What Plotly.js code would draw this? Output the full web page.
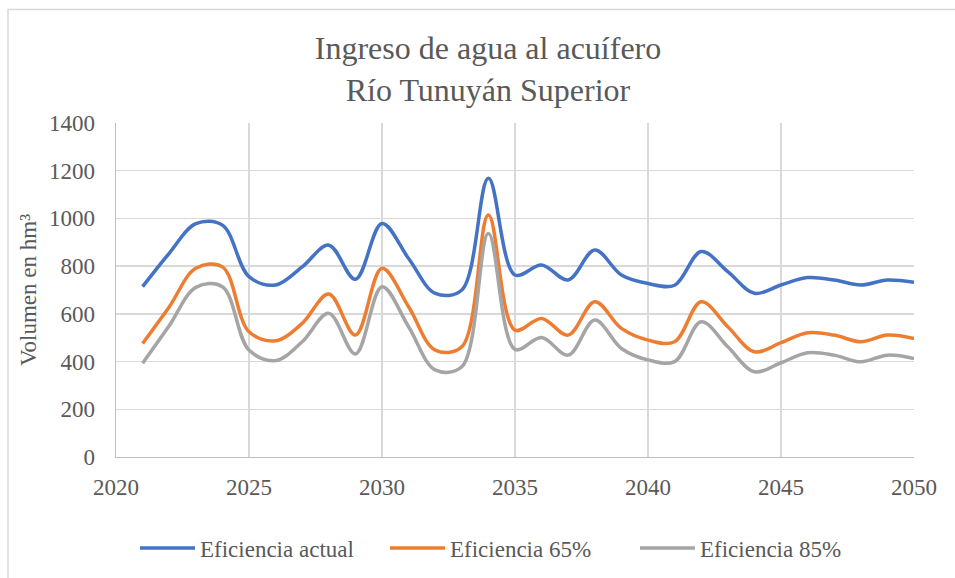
<!DOCTYPE html>
<html>
<head>
<meta charset="utf-8">
<script src="https://cdn.plot.ly/plotly-3.0.1.min.js"></script>
<style>
  html, body { margin: 0; padding: 0; background: #fff; }
  #chart { width: 955px; height: 578px; }
</style>
</head>
<body>
<div id="chart"></div>
<script>
const years = [2021,2022,2023,2024,2025,2026,2027,2028,2029,2030,
               2031,2032,2033,2034,2035,2036,2037,2038,2039,2040,
               2041,2042,2043,2044,2045,2046,2047,2048,2049,2050];
const eficienciaActual = [714,854,978,972,756,721,797,888,745,979,
                          832,686,700,1168,763,805,742,868,763,727,
                          720,861,777,686,721,752,742,721,742,732];
const eficiencia65 = [476,629,791,797,525,487,560,683,511,791,
                      630,448,462,1014,532,581,511,651,539,490,
                      483,651,546,441,479,521,511,483,511,497];
const eficiencia85 = [393,550,711,714,448,404,483,602,432,714,
                      546,365,378,937,451,501,427,574,455,407,
                      400,567,462,357,395,437,427,399,427,413];
const seriesNames = ["Eficiencia actual","Eficiencia 65%","Eficiencia 85%"];
const seriesColors = ["#4472C4","#ED7D31","#A5A5A5"];
const xTicks = [2020,2025,2030,2035,2040,2045,2050];
const yTicks = [0,200,400,600,800,1000,1200,1400];

const font = "Liberation Serif, Times New Roman, serif";
const txt = "#595959";

const traces = [eficienciaActual, eficiencia65, eficiencia85].map((vals, i) => ({
  x: years, y: vals, name: seriesNames[i], type: "scatter", mode: "lines",
  line: { color: seriesColors[i], width: 3.5, shape: "spline", smoothing: 1 }
}));

const layout = {
  width: 955, height: 578,
  margin: { l: 116, r: 41, t: 123, b: 121 },
  paper_bgcolor: "#fff", plot_bgcolor: "#fff",
  font: { family: font, color: txt },
  title: {
    text: "Ingreso de agua al acuífero<br>Río Tunuyán Superior",
    font: { family: font, size: 32, color: txt },
    x: 0.511, xref: "container", xanchor: "center",
    y: 0.898, yref: "container", yanchor: "middle"
  },
  xaxis: {
    range: [2020, 2050], tickvals: xTicks, ticktext: xTicks.map(String),
    showgrid: true, gridcolor: "#d9d9d9", gridwidth: 1.3,
    showline: true, linecolor: "#bfbfbf", linewidth: 1.3, mirror: false,
    zeroline: false, ticks: "", ticklabelstandoff: 9,
    tickfont: { family: font, size: 23, color: txt }
  },
  yaxis: {
    range: [0, 1400], tickvals: yTicks, ticktext: yTicks.map(String),
    showgrid: true, gridcolor: "#d9d9d9", gridwidth: 1.3,
    showline: true, linecolor: "#bfbfbf", linewidth: 1.3,
    zeroline: false, ticks: "", ticklabelstandoff: 15,
    tickfont: { family: font, size: 23, color: txt },
    title: { text: "Volumen en hm³", font: { family: font, size: 23, color: txt }, standoff: 6 }
  },
  showlegend: true,
  legend: {
    orientation: "h", x: 135/955, xref: "container", xanchor: "left",
    y: 1 - 548/578, yref: "container", yanchor: "middle",
    font: { family: font, size: 23, color: txt },
    itemwidth: 55, entrywidth: 180, entrywidthmode: "pixels"
  },
  shapes: [{
    type: "rect", xref: "paper", yref: "paper",
    x0: (8 - 116) / 798, x1: (960 - 116) / 798,
    y0: (457 - 590) / 334, y1: (457 - 9.5) / 334,
    line: { color: "#d9d9d9", width: 1.5 }, layer: "below"
  }]
};

Plotly.newPlot("chart", traces, layout, { displayModeBar: false, staticPlot: true });
</script>
</body>
</html>
